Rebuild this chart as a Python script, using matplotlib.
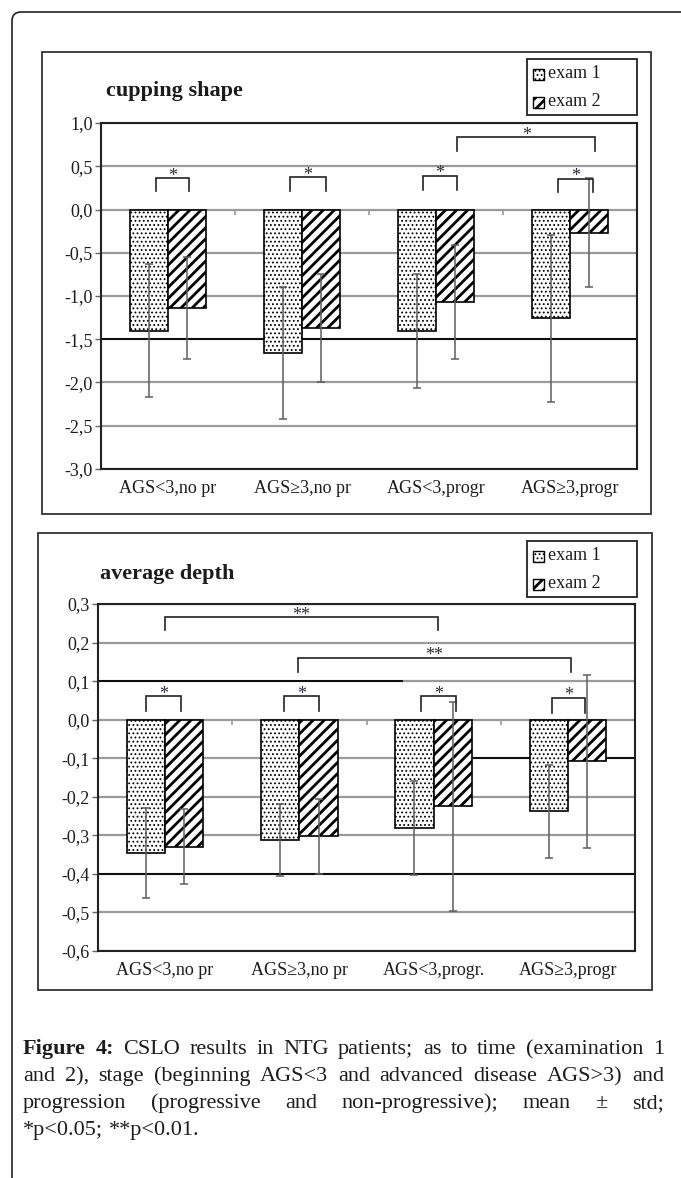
import matplotlib
matplotlib.use("Agg")
import matplotlib.pyplot as plt
import numpy as np
from matplotlib.patches import FancyBboxPatch, Rectangle
from matplotlib.ticker import FuncFormatter

plt.rcParams["font.family"] = ["Liberation Serif", "DejaVu Serif"]
plt.rcParams["hatch.linewidth"] = 2.0

W, H = 681, 1178
DPI = 100

# data
GROUPS_TOP = ["AGS<3,no pr", "AGS≥3,no pr", "AGS<3,progr", "AGS≥3,progr"]
GROUPS_BOTTOM = ["AGS<3,no pr", "AGS≥3,no pr", "AGS<3,progr.", "AGS≥3,progr"]
SERIES = ["exam 1", "exam 2"]

CUP_EXAM1 = [-1.40, -1.66, -1.40, -1.26]
CUP_EXAM2 = [-1.14, -1.37, -1.07, -0.27]
CUP_STD1 = [0.77, 0.76, 0.66, 0.96]
CUP_STD2 = [0.59, 0.62, 0.66, 0.63]

DEPTH_EXAM1 = [-0.345, -0.313, -0.281, -0.238]
DEPTH_EXAM2 = [-0.329, -0.303, -0.224, -0.108]
DEPTH_STD1 = [0.117, 0.093, 0.121, 0.121]
DEPTH_STD2 = [0.097, 0.097, 0.271, 0.225]

# significance brackets: left, right, bar height, leg end, label
CUP_BRACKETS = [
    (-0.09, 0.16, 0.36, 0.21, "*"),
    (0.913, 1.177, 0.373, 0.21, "*"),
    (1.90, 2.16, 0.39, 0.22, "*"),
    (2.91, 3.17, 0.354, 0.20, "*"),
    (2.16, 3.19, 0.835, 0.673, "*"),
]
DEPTH_BRACKETS = [
    (-0.146, 0.117, 0.061, 0.023, "*"),
    (0.885, 1.144, 0.061, 0.023, "*"),
    (1.906, 2.163, 0.061, 0.023, "*"),
    (2.88, 3.13, 0.056, 0.018, "*"),
    (0.0, 2.03, 0.265, 0.232, "**"),
    (0.99, 3.02, 0.161, 0.124, "**"),
]

CAPTION = [
    ("Figure 4: CSLO results in NTG patients; as to time (examination 1", True),
    ("and 2), stage (beginning AGS<3 and advanced disease AGS>3) and", True),
    ("progression (progressive and non-progressive); mean ± std;", True),
    ("*p<0.05; **p<0.01.", False),
]

TEXT = "#1c1c1c"
GRID = "#9a9a9a"
ERR = "#5e5e5e"
DOTS = "...."
STRIPES = "///"


def comma_fmt(v, _):
    s = f"{v:.1f}"
    if s == "-0.0":
        s = "0.0"
    return s.replace(".", ",")


def px_axes(fig, x0, y0, x1, y1):
    return fig.add_axes([x0 / W, 1 - y1 / H, (x1 - x0) / W, (y1 - y0) / H])


def thin_dots(patch):
    if hasattr(patch, "set_hatch_linewidth"):
        patch.set_hatch_linewidth(0.8)


def draw_chart(ax, labels, m1, m2, s1, s2, ylim, step, brackets, dark_lines):
    x = np.arange(len(labels))
    w = 1 / 3.5
    ax.set_xlim(-0.5, len(labels) - 0.5)
    ax.set_ylim(*ylim)
    ticks = np.arange(ylim[0], ylim[1] + step / 2, step)
    for t in ticks:
        ax.axhline(t, color=GRID, lw=1.6, zorder=1)
    for y, a, b in dark_lines:
        ax.axhline(y, xmin=a, xmax=b, color="black", lw=1.3, zorder=1.5)

    b1 = ax.bar(x - w / 2, m1, w, facecolor="white", edgecolor="black",
                hatch=DOTS, lw=1.2, zorder=3)
    ax.bar(x + w / 2, m2, w, facecolor="white", edgecolor="black",
           hatch=STRIPES, lw=1.2, zorder=3)
    for bar in b1:
        thin_dots(bar)
    ax.errorbar(x - w / 2, m1, yerr=s1, fmt="none", ecolor=ERR,
                elinewidth=1.1, capsize=3, capthick=1.1, zorder=4)
    ax.errorbar(x + w / 2, m2, yerr=s2, fmt="none", ecolor=ERR,
                elinewidth=1.1, capsize=3, capthick=1.1, zorder=4)

    # category boundary marks on the zero line
    tick_len = (ylim[1] - ylim[0]) * 5 / 346
    ax.vlines(x[:-1] + 0.5, -tick_len, 0, color=GRID, lw=1.2, zorder=2)

    for xl, xr, yb, yl, lab in brackets:
        ax.plot([xl, xl, xr, xr], [yl, yb, yb, yl], color="#222222",
                lw=1.2, zorder=5, solid_joinstyle="miter")
        ax.annotate(lab, ((xl + xr) / 2, yb), xytext=(0, 1.5),
                    textcoords="offset points", ha="center", va="center",
                    fontsize=13, color="#2a2a3a", zorder=6)

    for sp in ax.spines.values():
        sp.set_color("#222222")
        sp.set_linewidth(1.5)
    ax.set_yticks(ticks)
    ax.yaxis.set_major_formatter(FuncFormatter(comma_fmt))
    ax.tick_params(axis="y", length=4, width=1.0, color="#666666",
                   labelsize=13, labelcolor=TEXT, pad=2)
    ax.set_xticks(x)
    ax.set_xticklabels(labels)
    ax.tick_params(axis="x", length=0, labelsize=13, labelcolor=TEXT, pad=8)


fig = plt.figure(figsize=(W / DPI, H / DPI), dpi=DPI)

bg = fig.add_axes([0, 0, 1, 1])
bg.set_xlim(0, W)
bg.set_ylim(H, 0)
bg.axis("off")
bg.set_zorder(0)

# page frame with rounded corner
bg.add_patch(FancyBboxPatch((12, 12), 760, 1260,
                            boxstyle="round,pad=0,rounding_size=9",
                            facecolor="none", edgecolor="#222222", lw=1.2))

# panel frames
bg.add_patch(Rectangle((42, 52), 609, 462, facecolor="none",
                       edgecolor="#333333", lw=1.3))
bg.add_patch(Rectangle((38, 533), 614, 457, facecolor="none",
                       edgecolor="#333333", lw=1.3))

bg.text(106, 91, "cupping shape", fontsize=16, fontweight="bold",
        color=TEXT, va="center", ha="left")
bg.text(100, 574, "average depth", fontsize=16, fontweight="bold",
        color=TEXT, va="center", ha="left")

# legends
for top in (59, 541):
    bg.add_patch(Rectangle((527, top), 110, 56, facecolor="white",
                           edgecolor="#222222", lw=1.3))
    for i, (name, hatch) in enumerate(zip(SERIES, [DOTS, STRIPES])):
        yc = top + 15 + i * 28
        sw = Rectangle((533, yc - 5.5), 11, 11, facecolor="white",
                       edgecolor="black", hatch=hatch, lw=1.0)
        if hatch == DOTS:
            thin_dots(sw)
        bg.add_patch(sw)
        bg.text(548, yc, name, fontsize=13, color=TEXT, va="center",
                ha="left")

ax1 = px_axes(fig, 101, 123, 637, 469)
ax1.set_zorder(1)
draw_chart(ax1, GROUPS_TOP, CUP_EXAM1, CUP_EXAM2, CUP_STD1, CUP_STD2,
           (-3.0, 1.0), 0.5, CUP_BRACKETS, [(-1.5, 0, 1)])

ax2 = px_axes(fig, 98, 604, 635, 951)
ax2.set_zorder(1)
draw_chart(ax2, GROUPS_BOTTOM, DEPTH_EXAM1, DEPTH_EXAM2, DEPTH_STD1,
           DEPTH_STD2, (-0.6, 0.3), 0.1, DEPTH_BRACKETS,
           [(0.1, 0, 0.566), (-0.1, 0.70, 1), (-0.4, 0, 1)])

# caption, justified line by line
renderer = fig.canvas.get_renderer()
cap_size = 16
x_left, x_right = 23, 664
probe2 = bg.text(0, 0, "a a", fontsize=cap_size)
probe1 = bg.text(0, 0, "aa", fontsize=cap_size)
space_w = (probe2.get_window_extent(renderer).width
           - probe1.get_window_extent(renderer).width)
probe2.remove()
probe1.remove()

for i, (line, justify) in enumerate(CAPTION):
    y = 1054 + i * 27
    words = line.split(" ")
    items = []
    for j, wd in enumerate(words):
        bold = i == 0 and j < 2
        t = bg.text(0, y, wd, fontsize=cap_size, color=TEXT, va="baseline",
                    ha="left", fontweight="bold" if bold else "normal")
        items.append(t)
    widths = [t.get_window_extent(renderer).width for t in items]
    if justify and len(items) > 1:
        gap = max((x_right - x_left - sum(widths)) / (len(items) - 1), space_w)
    else:
        gap = space_w
    xpos = x_left
    for t, wd in zip(items, widths):
        t.set_x(xpos)
        xpos += wd + gap

fig.savefig("out.png", dpi=DPI, facecolor="white")
